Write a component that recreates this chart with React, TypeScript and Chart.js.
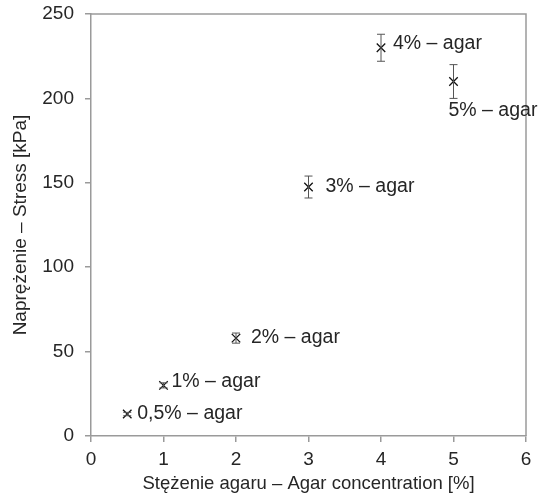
import React, { useEffect, useRef } from "react";
import { Chart, registerables } from "chart.js";

Chart.register(...registerables);

const concentrations = [0.5, 1, 2, 3, 4, 5];
const stress = [13, 30, 58, 147.5, 230, 210];
const stressErr = [1, 1.5, 3, 6.5, 8, 10];
const pointLabels = ["0,5% – agar", "1% – agar", "2% – agar", "3% – agar", "4% – agar", "5% – agar"];
// label offsets in px relative to point (dx, dy)
const labelDx = [10, 8, 15, 17, 12, -5];
const labelDy = [0, -4, 0, 0, -4, 29];

const xTicks = [0, 1, 2, 3, 4, 5, 6];
const yTicks = [0, 50, 100, 150, 200, 250];

const AXIS_COLOR = "#9a9a9a";
const TEXT_COLOR = "#262626";
const FONT = "'Liberation Sans', Arial, sans-serif";

const overlay = {
  id: "overlay",
  afterDatasetsDraw(chart: any) {
    const { ctx, chartArea, scales } = chart;
    const xs = scales.x;
    const ys = scales.y;
    ctx.save();
    // box top & right
    ctx.strokeStyle = AXIS_COLOR;
    ctx.lineWidth = 1.5;
    ctx.beginPath();
    ctx.moveTo(chartArea.left, chartArea.top);
    ctx.lineTo(chartArea.right, chartArea.top);
    ctx.lineTo(chartArea.right, chartArea.bottom);
    ctx.stroke();
    // error bars
    ctx.strokeStyle = "#555555";
    ctx.lineWidth = 1;
    concentrations.forEach((c, i) => {
      const px = xs.getPixelForValue(c);
      const yTop = ys.getPixelForValue(stress[i] + stressErr[i]);
      const yBot = ys.getPixelForValue(stress[i] - stressErr[i]);
      ctx.beginPath();
      ctx.moveTo(px, yTop);
      ctx.lineTo(px, yBot);
      ctx.moveTo(px - 4, yTop);
      ctx.lineTo(px + 4, yTop);
      ctx.moveTo(px - 4, yBot);
      ctx.lineTo(px + 4, yBot);
      ctx.stroke();
    });
    // labels
    ctx.fillStyle = TEXT_COLOR;
    ctx.font = `19.5px ${FONT}`;
    ctx.textAlign = "left";
    ctx.textBaseline = "middle";
    concentrations.forEach((c, i) => {
      const px = xs.getPixelForValue(c);
      const py = ys.getPixelForValue(stress[i]);
      ctx.fillText(pointLabels[i], px + labelDx[i], py + labelDy[i]);
    });
    ctx.restore();
  },
};

export default function App() {
  const ref = useRef<HTMLCanvasElement>(null);
  useEffect(() => {
    if (!ref.current) return;
    const chart = new Chart(ref.current, {
      type: "scatter",
      data: {
        datasets: [
          {
            data: concentrations.map((c, i) => ({ x: c, y: stress[i] })),
            pointStyle: "crossRot",
            pointRadius: 6,
            borderColor: "#111111",
            borderWidth: 1.3,
            backgroundColor: "#111111",
          },
        ],
      },
      options: {
        animation: false,
        responsive: false,
        layout: { padding: { top: 14, right: 14, left: 0, bottom: 0 } },
        plugins: { legend: { display: false }, tooltip: { enabled: false } },
        scales: {
          x: {
            type: "linear",
            min: 0,
            max: 6,
            afterBuildTicks: (s: any) => {
              s.ticks = xTicks.map((v) => ({ value: v }));
            },
            afterFit: (s: any) => {
              s.height = 63;
              s.paddingLeft = 0;
              s.paddingRight = 0;
            },
            ticks: { color: TEXT_COLOR, font: { size: 19, family: FONT }, padding: 6 },
            grid: { drawOnChartArea: false, color: AXIS_COLOR, tickLength: 6, lineWidth: 1.5 },
            border: { color: AXIS_COLOR, width: 1.5 },
            title: {
              display: true,
              text: "Stężenie agaru – Agar concentration [%]",
              color: TEXT_COLOR,
              font: { size: 18.5, family: FONT },
              padding: { top: 0, bottom: 4 },
            },
          },
          y: {
            type: "linear",
            min: 0,
            max: 250,
            afterBuildTicks: (s: any) => {
              s.ticks = yTicks.map((v) => ({ value: v }));
            },
            afterFit: (s: any) => {
              s.width = 91;
              s.paddingTop = 0;
              s.paddingBottom = 0;
            },
            ticks: { color: TEXT_COLOR, font: { size: 19, family: FONT }, padding: 11 },
            grid: { drawOnChartArea: false, color: AXIS_COLOR, tickLength: 6, lineWidth: 1.5 },
            border: { color: AXIS_COLOR, width: 1.5 },
            title: {
              display: true,
              text: "Naprężenie – Stress [kPa]",
              color: TEXT_COLOR,
              font: { size: 19, family: FONT },
              padding: { top: 9, bottom: 0 },
            },
          },
        },
      },
      plugins: [overlay],
    });
    return () => chart.destroy();
  }, []);
  return (
    <div style={{ position: "fixed", left: 0, top: 0, width: 540, height: 499, background: "#fff" }}>
      <canvas ref={ref} width={540} height={499} style={{ width: 540, height: 499 }} />
    </div>
  );
}
